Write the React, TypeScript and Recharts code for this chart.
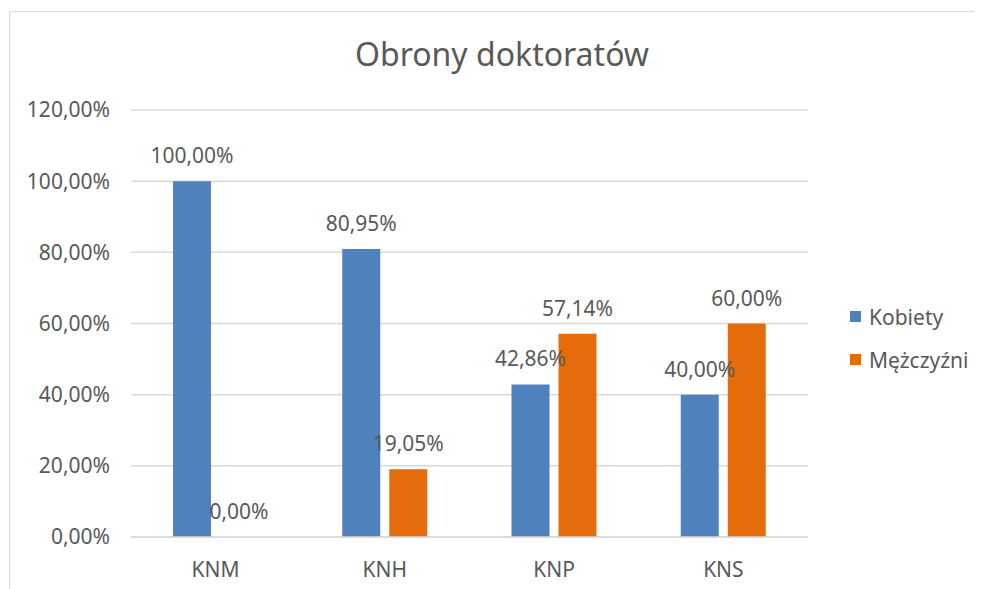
import { BarChart, Bar, XAxis, YAxis, CartesianGrid, LabelList } from "recharts";

const categories = ["KNM", "KNH", "KNP", "KNS"];
const kobiety = [100, 80.95, 42.86, 40];
const mezczyzni = [0, 19.05, 57.14, 60];
const yTicks = [0, 20, 40, 60, 80, 100, 120];

const BLUE = "#4F81BD";
const ORANGE = "#E46C0A";
const TEXT = "#595959";
const FONT = "'Noto Sans', sans-serif";

const data = categories.map((name, i) => ({
  name,
  kobiety: kobiety[i],
  mezczyzni: mezczyzni[i],
}));

// Polish-style percent: 80,95%
const fmt = (v: number) => v.toFixed(2).replace(".", ",") + "%";

const legendItems = [
  { label: "Kobiety", color: BLUE },
  { label: "Mężczyźni", color: ORANGE },
];

// Label drawn above each bar, also for zero-height bars
const TopLabel = (props: any) => {
  const { x, y, width, value } = props;
  return (
    <text
      x={Number(x) + Number(width) / 2}
      y={Number(y) - 18}
      textAnchor="middle"
      fill={TEXT}
      fontSize={21}
      fontFamily={FONT}
    >
      {fmt(Number(value))}
    </text>
  );
};

export default function App() {
  return (
    <div
      style={{
        position: "relative",
        marginLeft: 1,
        marginTop: 3,
        width: 973,
        height: 578,
        boxSizing: "border-box",
        borderLeft: "1px solid #d9d9d9",
        borderTop: "1px solid #d9d9d9",
        overflow: "hidden",
      }}
    >
      <div
        style={{
          position: "absolute",
          left: 0,
          width: 984,
          top: 20,
          textAlign: "center",
          fontFamily: FONT,
          fontSize: 32,
          color: TEXT,
        }}
      >
        Obrony doktoratów
      </div>
      <div
        style={{
          position: "absolute",
          left: 840,
          top: 283,
          fontFamily: FONT,
          fontSize: 21,
          color: TEXT,
        }}
      >
        {legendItems.map((item) => (
          <div
            key={item.label}
            style={{ display: "flex", alignItems: "center", height: 43 }}
          >
            <span
              style={{
                width: 11,
                height: 11,
                background: item.color,
                display: "inline-block",
                marginRight: 8,
              }}
            />
            <span>{item.label}</span>
          </div>
        ))}
      </div>
      <BarChart
        width={972}
        height={577}
        data={data}
        margin={{ top: 98, right: 174, left: 0, bottom: 12 }}
        barSize={38}
        barGap={9}
      >
        <CartesianGrid vertical={false} stroke="#d9d9d9" strokeWidth={1.5} />
        <XAxis
          dataKey="name"
          axisLine={{ stroke: "#d9d9d9", strokeWidth: 1.5 }}
          tickLine={false}
          tickSize={0}
          tickMargin={25}
          height={40}
          tick={{ fill: TEXT, fontSize: 21, fontFamily: FONT }}
        />
        <YAxis
          width={121}
          domain={[0, 120]}
          ticks={yTicks}
          tickFormatter={fmt}
          axisLine={false}
          tickLine={false}
          tickSize={0}
          tickMargin={21}
          tick={{ fill: TEXT, fontSize: 21, fontFamily: FONT }}
        />
        <Bar dataKey="kobiety" name="Kobiety" fill={BLUE} isAnimationActive={false}>
          <LabelList dataKey="kobiety" content={<TopLabel />} />
        </Bar>
        {/* tiny minPointSize keeps the 0% bar (and its label) in the layout */}
        <Bar
          dataKey="mezczyzni"
          name="Mężczyźni"
          fill={ORANGE}
          minPointSize={0.01}
          isAnimationActive={false}
        >
          <LabelList dataKey="mezczyzni" content={<TopLabel />} />
        </Bar>
      </BarChart>
    </div>
  );
}
